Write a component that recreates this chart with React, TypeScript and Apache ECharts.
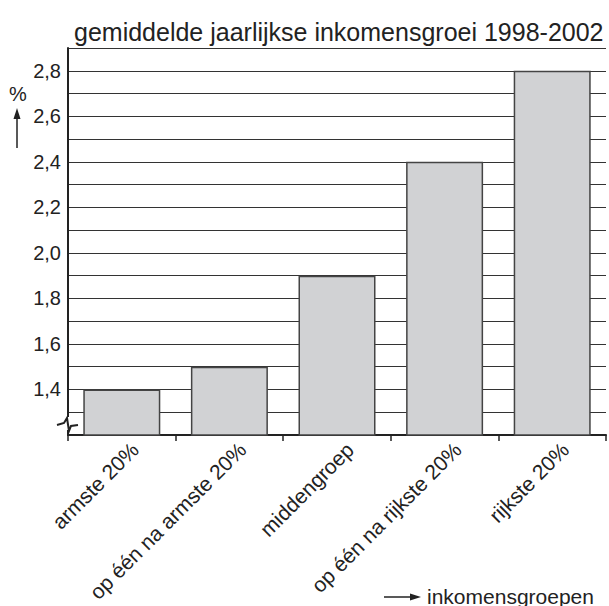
import React, { useEffect, useRef } from "react";
import * as echarts from "echarts";

const categories = [
  "armste 20%",
  "op één na armste 20%",
  "middengroep",
  "op één na rijkste 20%",
  "rijkste 20%",
];
const growth = [1.4, 1.5, 1.9, 2.4, 2.8];
const yLabelled = [1.4, 1.6, 1.8, 2.0, 2.2, 2.4, 2.6, 2.8];
const titleText = "gemiddelde jaarlijkse inkomensgroei 1998-2002";
const yUnit = "%";
const xUnit = "inkomensgroepen";

const FONT = "'Liberation Sans', Arial, Helvetica, sans-serif";
const INK = "#222";

export default function App() {
  const ref = useRef<HTMLDivElement>(null);
  useEffect(() => {
    if (!ref.current) return;
    const chart = echarts.init(ref.current, undefined, { renderer: "svg" });
    chart.setOption({
      animation: false,
      backgroundColor: "#fff",
      textStyle: { fontFamily: FONT },
      title: {
        text: titleText,
        left: 69,
        top: 14,
        textStyle: { fontFamily: FONT, fontSize: 25, fontWeight: "normal", color: INK },
      },
      grid: { left: 68, right: 3, top: 48, bottom: 171, containLabel: false, outerBoundsMode: "none" },
      xAxis: {
        type: "category",
        data: categories,
        axisLine: { show: true, lineStyle: { color: INK, width: 2 } },
        axisTick: { show: true, interval: 0, length: 6, alignWithLabel: false, lineStyle: { color: INK, width: 1.5 } },
        axisLabel: {
          interval: 0,
          rotate: 45,
          margin: -2,
          verticalAlign: "top",
          lineHeight: 37,
          fontFamily: FONT,
          fontSize: 21,
          color: INK,
        },
        splitLine: { show: false },
      },
      yAxis: {
        type: "value",
        min: 1.2,
        max: 2.9,
        interval: 0.1,
        axisLine: { show: true, lineStyle: { color: INK, width: 2 } },
        axisTick: { show: false },
        axisLabel: {
          margin: 7,
          fontFamily: FONT,
          fontSize: 20,
          color: INK,
          formatter: (v: number) => {
            const hit = yLabelled.find((l) => Math.abs(l - v) < 1e-6);
            return hit !== undefined ? hit.toFixed(1).replace(".", ",") : "";
          },
        },
        splitLine: { show: true, lineStyle: { color: "#333", width: 1 } },
      },
      series: [
        {
          type: "bar",
          data: growth,
          barWidth: 77,
          itemStyle: { color: "#d1d2d4", borderColor: "#444", borderWidth: 1.5 },
          z: 3,
        },
      ],
      graphic: [
        // y-axis unit and arrow
        {
          type: "text",
          left: 9,
          top: 84,
          style: { text: yUnit, fontFamily: FONT, fontSize: 20, fill: INK },
        },
        {
          type: "line",
          shape: { x1: 17, y1: 148, x2: 17, y2: 116 },
          style: { stroke: INK, lineWidth: 1.5 },
        },
        {
          type: "polygon",
          shape: { points: [[17, 108], [13.5, 119], [20.5, 119]] },
          style: { fill: INK },
        },
        // axis break
        {
          type: "rect",
          shape: { x: 62, y: 417, width: 12, height: 13 },
          style: { fill: "#fff" },
          z: 100,
        },
        {
          type: "polyline",
          shape: { points: [[57, 425], [64, 423], [67, 418], [69, 431], [71, 426], [78, 425]] },
          style: { stroke: INK, lineWidth: 2, fill: null },
          z: 101,
        },
        // x-axis unit
        {
          type: "line",
          shape: { x1: 384, y1: 597, x2: 412, y2: 597 },
          style: { stroke: INK, lineWidth: 1.5 },
        },
        {
          type: "polygon",
          shape: { points: [[421, 597], [410, 593.5], [410, 600.5]] },
          style: { fill: INK },
        },
        {
          type: "text",
          x: 427,
          y: 596,
          style: {
            text: xUnit,
            fontFamily: FONT,
            fontSize: 21,
            lineHeight: 18,
            verticalAlign: "middle",
            fill: INK,
          },
        },
      ],
    });
    return () => chart.dispose();
  }, []);
  return (
    <div
      ref={ref}
      style={{ position: "fixed", left: 0, top: 0, width: 609, height: 606 }}
    />
  );
}
